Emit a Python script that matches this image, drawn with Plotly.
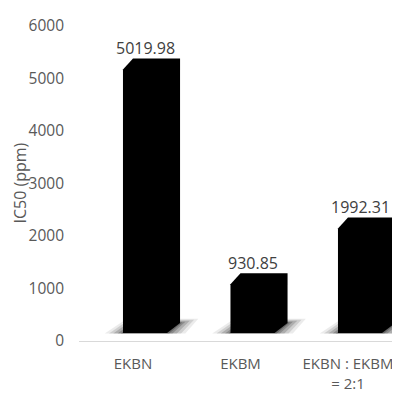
import plotly.graph_objects as go

categories = ["EKBN", "EKBM", "EKBN : EKBM<br>= 2:1"]
values = [5019.98, 930.85, 1992.31]
value_labels = ["5019.98", "930.85", "1992.31"]
y_ticks = [0, 1000, 2000, 3000, 4000, 5000, 6000]
y_title = "IC50 (ppm)"

# 3D-look geometry (axis units)
BASE = 152          # floor height of bar front
FRONT_OFF = -0.093  # front face left offset from category
FRONT_W = 0.41      # front face width
TOP_DX = 0.093      # bevel of top face
SIDE_DX = 0.121     # depth in x
TOP_DY = 210        # depth in y at top
BOT_DY = 190        # depth in y at bottom

fig = go.Figure()

# floor shadows (soft, layered)
for i, v in enumerate(values):
    x0 = i + FRONT_OFF
    x1 = x0 + FRONT_W
    xr = x1 + SIDE_DX
    for e, op in [(0.17, 0.08), (0.13, 0.12), (0.09, 0.16), (0.05, 0.2), (0.02, 0.25)]:
        ey = e / 0.17 * 80
        xs = [x0 - e, x1 + e, xr + e, x0 + SIDE_DX - e * 0.5, x0 - e]
        ys = [BASE - 10, BASE - 10, BASE + BOT_DY + ey, BASE + BOT_DY + ey, BASE - 10]
        fig.add_trace(go.Scatter(x=xs, y=ys, mode="lines", fill="toself",
                                 fillcolor=f"rgba(0,0,0,{op})", line=dict(width=0),
                                 hoverinfo="skip", showlegend=False))

# bars
for i, v in enumerate(values):
    x0 = i + FRONT_OFF
    x1 = x0 + FRONT_W
    xr = x1 + SIDE_DX
    top = BASE + v
    xs = [x0, x0, x0 + TOP_DX, xr, xr, x1, x0]
    ys = [BASE, top, top + TOP_DY, top + TOP_DY, BASE + BOT_DY, BASE, BASE]
    fig.add_trace(go.Scatter(x=xs, y=ys, mode="lines", fill="toself",
                             fillcolor="black", line=dict(width=0, color="black"),
                             hoverinfo="skip", showlegend=False))
    fig.add_annotation(x=x0 + FRONT_W / 2, y=top + TOP_DY, text=value_labels[i],
                       showarrow=False, yanchor="bottom", yshift=-3,
                       font=dict(family="Open Sans", size=16, color="#404040"))

# y axis title
fig.add_annotation(xref="paper", yref="paper", x=0, y=0.5, text=y_title,
                   textangle=-90, showarrow=False, xanchor="center",
                   yanchor="middle", xshift=-60,
                   font=dict(family="Open Sans", size=16, color="#595959"))

fig.update_layout(
    width=400, height=400,
    margin=dict(l=71, r=8, t=18, b=67, autoexpand=False),
    paper_bgcolor="white", plot_bgcolor="white",
    font=dict(family="Open Sans", size=15, color="#595959"),
    xaxis=dict(range=[-0.502, 2.484], tickmode="array",
               tickvals=list(range(len(categories))), ticktext=categories,
               showgrid=False, zeroline=False, showline=True,
               linecolor="#d9d9d9", linewidth=1, ticks="",
               ticklabelstandoff=9, tickfont=dict(size=15)),
    yaxis=dict(range=[0, 6000], tickvals=y_ticks, showgrid=False,
               zeroline=False, showline=False, ticks="",
               ticklabelstandoff=14, tickfont=dict(size=15.5)),
)

fig.write_html("out.html")
